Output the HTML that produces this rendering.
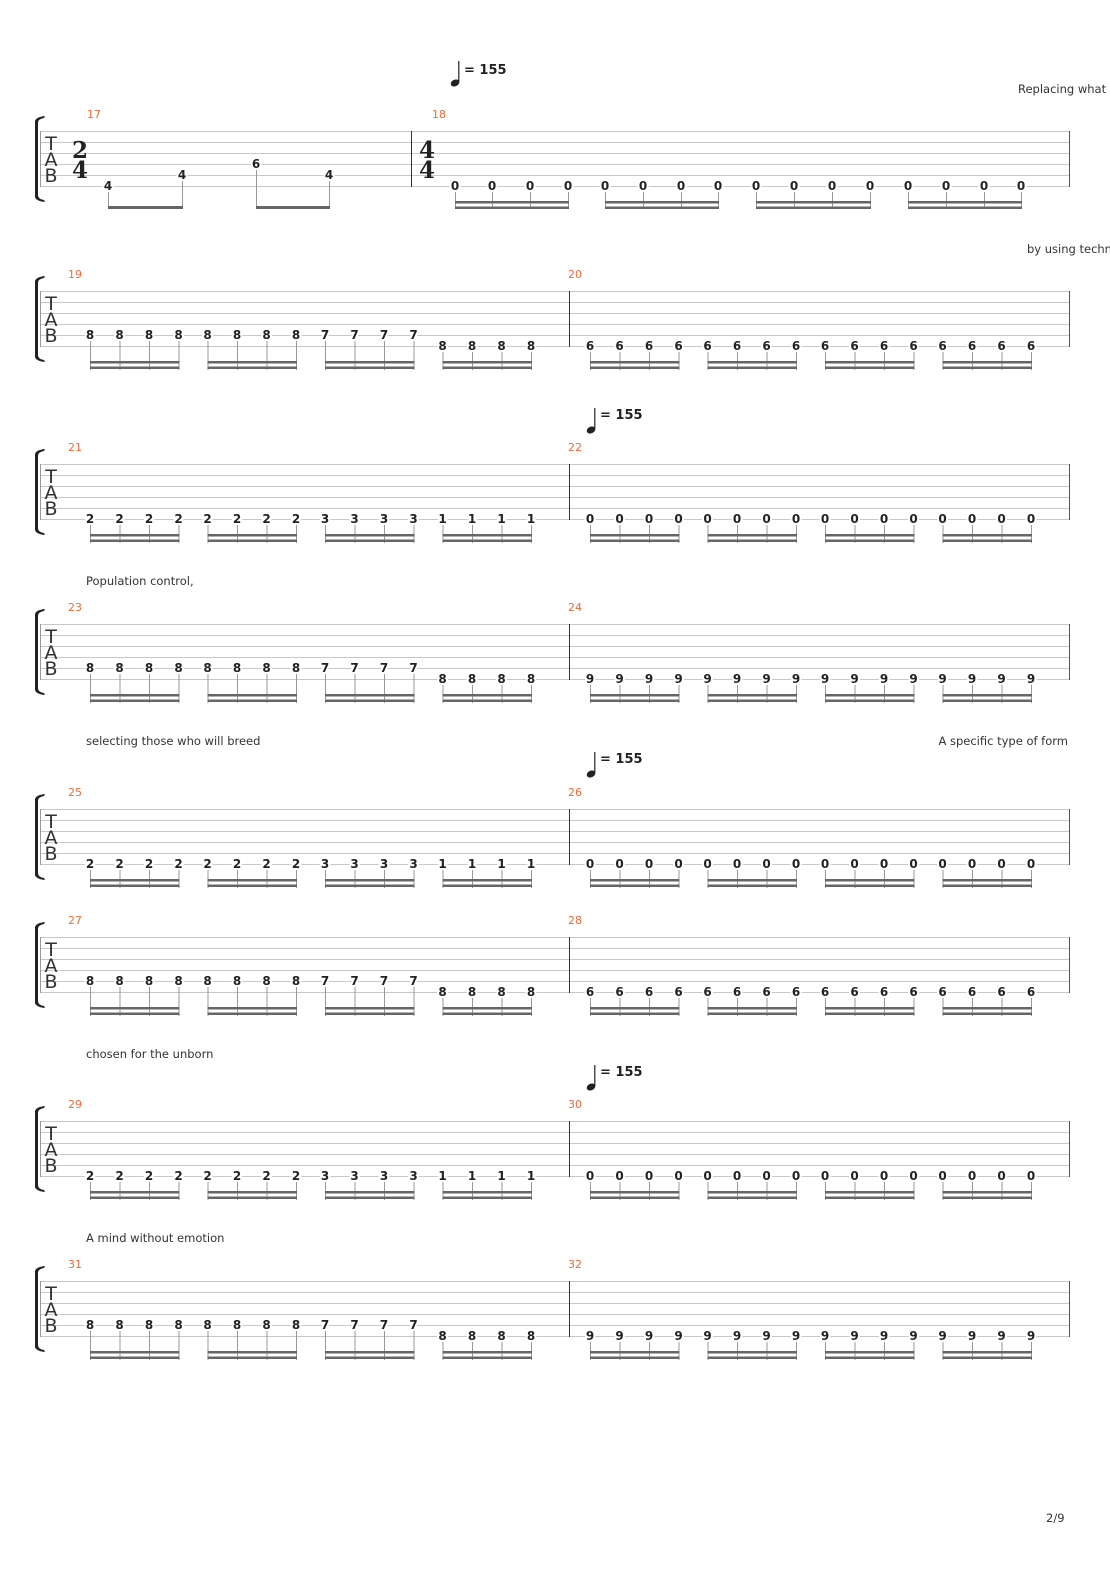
<!DOCTYPE html>
<html><head><meta charset="utf-8"><style>
html,body{margin:0;padding:0;background:#fff}
svg{display:block}
.n{font:bold 12px "DejaVu Sans","Liberation Sans",sans-serif;fill:#222;text-anchor:middle;stroke:#fff;stroke-width:4;paint-order:stroke}
.bn{font:11px "DejaVu Sans","Liberation Sans",sans-serif;fill:#f06a3a}
.ly{font:11.5px "DejaVu Sans","Liberation Sans",sans-serif;fill:#333}
.tm{font:bold 13px "DejaVu Sans","Liberation Sans",sans-serif;fill:#222}
.tab{font:19px "DejaVu Sans","Liberation Sans",sans-serif;fill:#333;text-anchor:middle}
.ts{font:bold 23px "DejaVu Serif","Liberation Serif",serif;fill:#222;text-anchor:middle}
</style></head><body>
<svg width="1110" height="1570" viewBox="0 0 1110 1570" xmlns="http://www.w3.org/2000/svg">
<defs>
<g id="staff">
<g stroke="#c8c8c8" stroke-width="1">
<line x1="40" y1="0.5" x2="1070" y2="0.5"/><line x1="40" y1="11.5" x2="1070" y2="11.5"/><line x1="40" y1="22.5" x2="1070" y2="22.5"/><line x1="40" y1="33.5" x2="1070" y2="33.5"/><line x1="40" y1="44.5" x2="1070" y2="44.5"/><line x1="40" y1="55.5" x2="1070" y2="55.5"/>
</g>
<line x1="40.5" y1="0" x2="40.5" y2="56" stroke="#999"/>
<line x1="1069.5" y1="0" x2="1069.5" y2="56" stroke="#555"/>
<path d="M45 -15 Q36 -14 35 -10 L35 66 Q36 70 45 71 L44 69 Q38 68 38 64 L38 -8 Q38 -12 44 -13 Z" fill="#222"/>
<text class="tab" x="51" y="19">T</text><text class="tab" x="51" y="35">A</text><text class="tab" x="51" y="51">B</text>
</g>
<g id="b6"><g stroke="#999" stroke-width="1"><line x1="0.5" y1="60" x2="0.5" y2="79"/><line x1="30" y1="60" x2="30" y2="79"/><line x1="59.5" y1="60" x2="59.5" y2="79"/><line x1="89" y1="60" x2="89" y2="79"/></g><rect x="0" y="70" width="89.5" height="2.5" fill="#666"/><rect x="0" y="75.5" width="89.5" height="2.5" fill="#666"/></g>
<g id="b5"><g stroke="#999" stroke-width="1"><line x1="0.5" y1="49" x2="0.5" y2="79"/><line x1="30" y1="49" x2="30" y2="79"/><line x1="59.5" y1="49" x2="59.5" y2="79"/><line x1="89" y1="49" x2="89" y2="79"/></g><rect x="0" y="70" width="89.5" height="2.5" fill="#666"/><rect x="0" y="75.5" width="89.5" height="2.5" fill="#666"/></g>
<g id="m6"><use href="#b6" x="90"/><use href="#b6" x="207.5"/><use href="#b6" x="325"/><use href="#b6" x="442.5"/></g>
<g id="mP"><use href="#b5" x="90"/><use href="#b5" x="207.5"/><use href="#b5" x="325"/><use href="#b6" x="442.5"/></g>
<g id="m6b"><use href="#b6" x="590"/><use href="#b6" x="707.5"/><use href="#b6" x="825"/><use href="#b6" x="942.5"/></g>
<g id="bar"><line x1="569.5" y1="0" x2="569.5" y2="56" stroke="#333"/></g>
<g id="tempo"><ellipse cx="0" cy="0" rx="4.5" ry="3.3" transform="rotate(-25)" fill="#222"/><line x1="3.8" y1="-1" x2="3.8" y2="-22" stroke="#222" stroke-width="1.2"/></g>
</defs>

<!-- System 1 -->
<use href="#tempo" x="455" y="83"/><text class="tm" x="464" y="74">= 155</text>
<text class="ly" x="1018" y="93">Replacing what</text>
<g transform="translate(0,131)">
<use href="#staff"/>
<line x1="411.5" y1="0" x2="411.5" y2="56" stroke="#333"/>
<text class="bn" x="87" y="-13">17</text><text class="bn" x="432" y="-13">18</text>
<text class="ts" x="80" y="27">2</text><text class="ts" x="80" y="47">4</text>
<text class="ts" x="427" y="27">4</text><text class="ts" x="427" y="47">4</text>
<g stroke="#999"><line x1="108.5" y1="60" x2="108.5" y2="77"/><line x1="182.5" y1="49" x2="182.5" y2="77"/><line x1="256.5" y1="38" x2="256.5" y2="77"/><line x1="329.5" y1="49" x2="329.5" y2="77"/></g>
<rect x="108" y="75" width="75" height="3" fill="#666"/><rect x="256" y="75" width="74" height="3" fill="#666"/>
<text class="n" x="108" y="59">4</text><text class="n" x="182" y="48">4</text><text class="n" x="256" y="37">6</text><text class="n" x="329" y="48">4</text>
<g stroke="#999"><line x1="455.5" y1="60" x2="455.5" y2="78"/><line x1="492.5" y1="60" x2="492.5" y2="78"/><line x1="530.5" y1="60" x2="530.5" y2="78"/><line x1="568.5" y1="60" x2="568.5" y2="78"/><line x1="605.5" y1="60" x2="605.5" y2="78"/><line x1="643.5" y1="60" x2="643.5" y2="78"/><line x1="681.5" y1="60" x2="681.5" y2="78"/><line x1="718.5" y1="60" x2="718.5" y2="78"/><line x1="756.5" y1="60" x2="756.5" y2="78"/><line x1="794.5" y1="60" x2="794.5" y2="78"/><line x1="832.5" y1="60" x2="832.5" y2="78"/><line x1="870.5" y1="60" x2="870.5" y2="78"/><line x1="908.5" y1="60" x2="908.5" y2="78"/><line x1="946.5" y1="60" x2="946.5" y2="78"/><line x1="984.5" y1="60" x2="984.5" y2="78"/><line x1="1021.5" y1="60" x2="1021.5" y2="78"/></g>
<g fill="#666"><rect x="455" y="70" width="114" height="2.5"/><rect x="455" y="75.5" width="114" height="2.5"/><rect x="605" y="70" width="114" height="2.5"/><rect x="605" y="75.5" width="114" height="2.5"/><rect x="756" y="70" width="115" height="2.5"/><rect x="756" y="75.5" width="115" height="2.5"/><rect x="908" y="70" width="114" height="2.5"/><rect x="908" y="75.5" width="114" height="2.5"/></g>
<text class="n" x="455 492 530 568 605 643 681 718 756 794 832 870 908 946 984 1021" y="59">0000000000000000</text>
</g>

<!-- System 2 -->
<text class="ly" x="1027" y="253">by using techn</text>
<g transform="translate(0,291)">
<use href="#staff"/><use href="#bar"/>
<text class="bn" x="68" y="-13">19</text><text class="bn" x="568" y="-13">20</text>
<use href="#mP"/><use href="#m6b"/>
<text class="n" x="90 119.5 149 178.5 207.5 237 266.5 296 325 354.5 384 413.5" y="48">888888887777</text>
<text class="n" x="442.5 472 501.5 531" y="59">8888</text>
<text class="n" x="590 619.5 649 678.5 707.5 737 766.5 796 825 854.5 884 913.5 942.5 972 1001.5 1031" y="59">6666666666666666</text>
</g>

<!-- System 3 -->
<use href="#tempo" x="591" y="430"/><text class="tm" x="600" y="419">= 155</text>
<g transform="translate(0,464)">
<use href="#staff"/><use href="#bar"/>
<text class="bn" x="68" y="-13">21</text><text class="bn" x="568" y="-13">22</text>
<use href="#m6"/><use href="#m6b"/>
<text class="n" x="90 119.5 149 178.5 207.5 237 266.5 296 325 354.5 384 413.5 442.5 472 501.5 531" y="59">2222222233331111</text>
<text class="n" x="590 619.5 649 678.5 707.5 737 766.5 796 825 854.5 884 913.5 942.5 972 1001.5 1031" y="59">0000000000000000</text>
</g>

<!-- System 4 -->
<text class="ly" x="86" y="585">Population control,</text>
<g transform="translate(0,624)">
<use href="#staff"/><use href="#bar"/>
<text class="bn" x="68" y="-13">23</text><text class="bn" x="568" y="-13">24</text>
<use href="#mP"/><use href="#m6b"/>
<text class="n" x="90 119.5 149 178.5 207.5 237 266.5 296 325 354.5 384 413.5" y="48">888888887777</text>
<text class="n" x="442.5 472 501.5 531" y="59">8888</text>
<text class="n" x="590 619.5 649 678.5 707.5 737 766.5 796 825 854.5 884 913.5 942.5 972 1001.5 1031" y="59">9999999999999999</text>
</g>

<!-- System 5 -->
<text class="ly" x="86" y="745">selecting those who will breed</text>
<text class="ly" x="1068" y="745" text-anchor="end">A specific type of form</text>
<use href="#tempo" x="591" y="774"/><text class="tm" x="600" y="763">= 155</text>
<g transform="translate(0,809)">
<use href="#staff"/><use href="#bar"/>
<text class="bn" x="68" y="-13">25</text><text class="bn" x="568" y="-13">26</text>
<use href="#m6"/><use href="#m6b"/>
<text class="n" x="90 119.5 149 178.5 207.5 237 266.5 296 325 354.5 384 413.5 442.5 472 501.5 531" y="59">2222222233331111</text>
<text class="n" x="590 619.5 649 678.5 707.5 737 766.5 796 825 854.5 884 913.5 942.5 972 1001.5 1031" y="59">0000000000000000</text>
</g>

<!-- System 6 -->
<g transform="translate(0,937)">
<use href="#staff"/><use href="#bar"/>
<text class="bn" x="68" y="-13">27</text><text class="bn" x="568" y="-13">28</text>
<use href="#mP"/><use href="#m6b"/>
<text class="n" x="90 119.5 149 178.5 207.5 237 266.5 296 325 354.5 384 413.5" y="48">888888887777</text>
<text class="n" x="442.5 472 501.5 531" y="59">8888</text>
<text class="n" x="590 619.5 649 678.5 707.5 737 766.5 796 825 854.5 884 913.5 942.5 972 1001.5 1031" y="59">6666666666666666</text>
</g>

<!-- System 7 -->
<text class="ly" x="86" y="1058">chosen for the unborn</text>
<use href="#tempo" x="591" y="1087"/><text class="tm" x="600" y="1076">= 155</text>
<g transform="translate(0,1121)">
<use href="#staff"/><use href="#bar"/>
<text class="bn" x="68" y="-13">29</text><text class="bn" x="568" y="-13">30</text>
<use href="#m6"/><use href="#m6b"/>
<text class="n" x="90 119.5 149 178.5 207.5 237 266.5 296 325 354.5 384 413.5 442.5 472 501.5 531" y="59">2222222233331111</text>
<text class="n" x="590 619.5 649 678.5 707.5 737 766.5 796 825 854.5 884 913.5 942.5 972 1001.5 1031" y="59">0000000000000000</text>
</g>

<!-- System 8 -->
<text class="ly" x="86" y="1242">A mind without emotion</text>
<g transform="translate(0,1281)">
<use href="#staff"/><use href="#bar"/>
<text class="bn" x="68" y="-13">31</text><text class="bn" x="568" y="-13">32</text>
<use href="#mP"/><use href="#m6b"/>
<text class="n" x="90 119.5 149 178.5 207.5 237 266.5 296 325 354.5 384 413.5" y="48">888888887777</text>
<text class="n" x="442.5 472 501.5 531" y="59">8888</text>
<text class="n" x="590 619.5 649 678.5 707.5 737 766.5 796 825 854.5 884 913.5 942.5 972 1001.5 1031" y="59">9999999999999999</text>
</g>

<text class="ly" x="1046" y="1522">2/9</text>
</svg>
</body></html>
